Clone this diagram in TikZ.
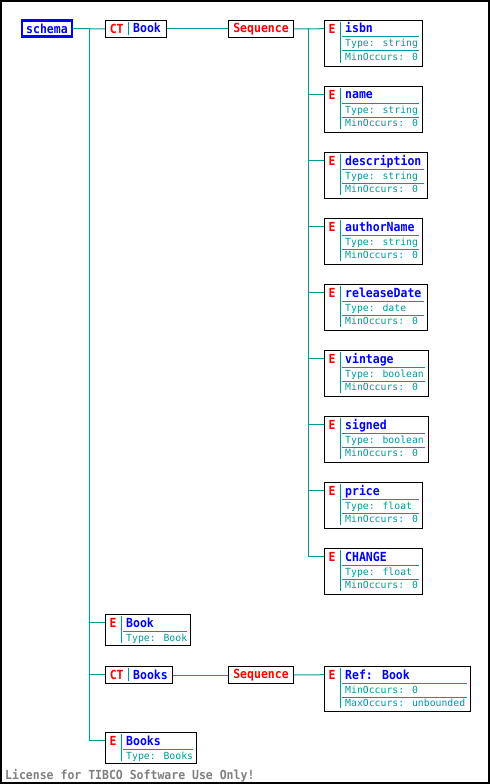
\documentclass[tikz,border=0pt]{standalone}
\usepackage{fontspec}
\usepackage{xcolor}
\usepackage{tikz}
\usetikzlibrary{positioning, calc}

\newfontfamily\xsdmono{DejaVu Sans Mono}
\newfontfamily\xsdbold{DejaVu Sans Mono Bold}[FakeStretch=0.92]
\newcommand{\namefont}{\xsdbold\fontsize{12.5}{14}\selectfont}
\newcommand{\infofont}{\xsdmono\fontsize{9.8}{11}\selectfont}
\definecolor{xsdteal}{RGB}{0,153,153}
\definecolor{xsdblue}{RGB}{0,0,255}
\definecolor{xsdred}{RGB}{255,0,0}
\definecolor{xsdgrey}{RGB}{128,128,128}

\begin{document}
\begin{tikzpicture}[
    x=1pt, y=-1pt,
    box/.style={rectangle, draw=black, line width=1pt, anchor=north west, inner sep=0pt},
    tag/.style={anchor=north west, inner sep=0pt, minimum height=17pt, font=\namefont, text=xsdred},
    label/.style={anchor=base west, inner sep=0pt, font=\namefont, text=xsdblue},
    info/.style={anchor=base west, inner sep=0pt, font=\infofont, text=xsdteal},
    sep/.style={draw=xsdteal, line width=1pt},
    link/.style={draw=xsdteal, line width=1pt}
]

\useasboundingbox (0,0) rectangle (490,784);
\draw[line width=2pt] (1,1) rectangle (489,783);

% Root
\node[rectangle, draw=xsdblue, line width=2.5pt, minimum width=50pt, minimum height=16pt,
      inner sep=0pt, font=\namefont, text=xsdblue] (schema) at (47,28.5) {schema};

% Complex type Book
\node[box, minimum width=61pt, minimum height=17pt] (ctbook) at (105,20) {};
\node[tag, minimum width=23pt] (ctbook-tag) at (ctbook.north west) {CT};
\draw[sep] (128,22) -- (128,35);
\node[label] (ctbook-name) at (133,33) {Book};

% Sequence of Book
\node[box, minimum width=65pt, minimum height=17pt, font=\namefont, text=xsdred] (seq1) at (228,20) {Sequence};

% Elements of Book
\foreach \nm/\ty/\w [count=\i from 0] in {isbn/string/98, name/string/98, description/string/103,
    authorName/string/98, releaseDate/date/103, vintage/boolean/104, signed/boolean/104,
    price/float/98, CHANGE/float/98} {
    \pgfmathsetmacro{\yy}{20+66*\i}
    \node[box, minimum width=\w, minimum height=46pt] (el\i) at (324,\yy) {};
    \node[tag, minimum width=16pt] (el\i-tag) at (el\i.north west) {E};
    \node[label] (el\i-name) at (345,\yy+13) {\nm};
    \node[info] (el\i-type) at (345,\yy+27) {Type: \ty};
    \node[info] (el\i-min) at (345,\yy+40) {MinOccurs: 0};
    \draw[sep] (340,\yy+2) -- (340,\yy+43);
    \draw[sep] (342,\yy+17) -- (324+\w-3,\yy+17);
    \draw[sep] (342,\yy+31) -- (324+\w-3,\yy+31);
}

% Element Book
\node[box, minimum width=85pt, minimum height=31pt] (elbook) at (105,614) {};
\node[tag, minimum width=16pt] (elbook-tag) at (elbook.north west) {E};
\node[label] (elbook-name) at (126,627) {Book};
\node[info] (elbook-type) at (126,641) {Type: Book};
\draw[sep] (121,616) -- (121,643);
\draw[sep] (123,631) -- (187,631);

% Complex type Books
\node[box, minimum width=67pt, minimum height=17pt] (ctbooks) at (105,666) {};
\node[tag, minimum width=23pt] (ctbooks-tag) at (ctbooks.north west) {CT};
\draw[sep] (128,668) -- (128,681);
\node[label] (ctbooks-name) at (133,679) {Books};

% Sequence of Books
\node[box, minimum width=65pt, minimum height=17pt, font=\namefont, text=xsdred] (seq2) at (228,666) {Sequence};

% Ref Book
\node[box, minimum width=146pt, minimum height=45pt] (elref) at (324,666) {};
\node[tag, minimum width=16pt] (elref-tag) at (elref.north west) {E};
\node[label] (elref-name) at (345,679) {Ref: Book};
\node[info] (elref-min) at (345,693) {MinOccurs: 0};
\node[info] (elref-max) at (345,706) {MaxOccurs: unbounded};
\draw[sep] (340,668) -- (340,708);
\draw[sep] (342,683) -- (467,683);
\draw[sep] (342,697) -- (467,697);

% Element Books
\node[box, minimum width=91pt, minimum height=31pt] (elbooks) at (105,732) {};
\node[tag, minimum width=16pt] (elbooks-tag) at (elbooks.north west) {E};
\node[label] (elbooks-name) at (126,745) {Books};
\node[info] (elbooks-type) at (126,759) {Type: Books};
\draw[sep] (121,734) -- (121,761);
\draw[sep] (123,749) -- (193,749);

% Connectors
\coordinate (rootfork) at (89,28.5);
\coordinate (seqfork) at (308,28.5);
\draw[link] (schema.east) -- (ctbook.west);
\draw[link] (rootfork) |- (elbook-tag.west);
\draw[link] (rootfork) |- (ctbooks-tag.west);
\draw[link] (rootfork) |- (elbooks-tag.west);
\draw[link] (ctbook.east) -- (seq1.west);
\draw[link] (seq1.east) -- (el0-tag.west);
\foreach \i in {1,...,8} {
    \draw[link] (seqfork) |- (el\i-tag.west);
}
\draw[link] (ctbooks.east) -- (seq2.west);
\draw[link] (seq2.east) -- (elref-tag.west);

% License
\node[anchor=base west, inner sep=0pt, font=\namefont, text=xsdgrey] (license) at (5,779)
    {License for TIBCO Software Use Only!};

\end{tikzpicture}
\end{document}
